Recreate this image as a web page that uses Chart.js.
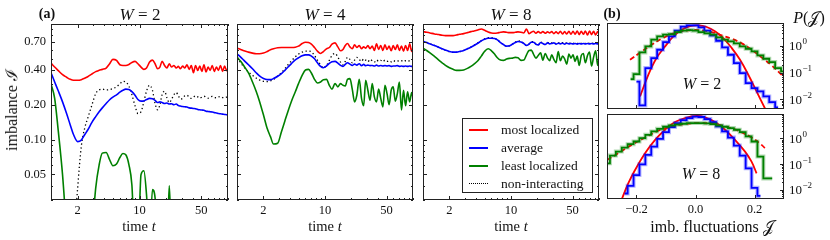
<!DOCTYPE html>
<html lang="en">
<head>
<meta charset="UTF-8">
<title>Imbalance and its fluctuations</title>
<script src="https://cdn.jsdelivr.net/npm/chart.js"></script>
<style>
  body { margin: 0; background: #fff; }
  #fig { position: relative; width: 830px; height: 240px; overflow: hidden;
         font-family: "Liberation Serif", serif; color: #111; }
  #fig canvas { position: absolute; }
  .txt { position: absolute; white-space: nowrap; transform: translate(-50%, -50%); line-height: 1; }
  .title { font-size: 17px; }
  .xlab { font-size: 16px; }
  .tlab { font-size: 14.5px; }
  .tag { font-weight: bold; font-size: 14px; }
  #legend { position: absolute; left: 462px; top: 118px; width: 131px; height: 75px;
            border: 1px solid #222; background: #fff; box-sizing: border-box; }
  #legend .row { position: absolute; left: 0; height: 16px; width: 100%; font-size: 13.5px; }
  #legend .sample { position: absolute; left: 6px; top: 7px; width: 19px; }
  #legend .name { position: absolute; left: 38px; top: 0; line-height: 16px; }
</style>
</head>
<body>
<div id="fig">
  <canvas id="w2" width="232" height="222" style="left:0;top:0"></canvas>
  <canvas id="w4" width="185" height="222" style="left:232px;top:0"></canvas>
  <canvas id="w8" width="185" height="222" style="left:418px;top:0"></canvas>
  <canvas id="h2" width="230" height="111" style="left:600px;top:0"></canvas>
  <canvas id="h8" width="230" height="114" style="left:600px;top:108px"></canvas>

  <div class="txt tag" style="left:47px;top:14px">(a)</div>
  <div class="txt title" style="left:140px;top:14px"><i>W</i> = 2</div>
  <div class="txt title" style="left:325px;top:14px"><i>W</i> = 4</div>
  <div class="txt title" style="left:511px;top:14px"><i>W</i> = 8</div>
  <div class="txt tag" style="left:612px;top:14px">(b)</div>
  <div class="txt xlab" style="left:809px;top:18px"><i>P</i>(𝒥)</div>
  <div class="txt xlab" style="left:12px;top:110px;transform:translate(-50%,-50%) rotate(-90deg)">imbalance ℐ</div>
  <div class="txt tlab" style="left:139px;top:226px">time <i>t</i></div>
  <div class="txt tlab" style="left:325px;top:226px">time <i>t</i></div>
  <div class="txt tlab" style="left:511px;top:226px">time <i>t</i></div>
  <div class="txt xlab" style="left:712px;top:227px">imb. fluctuations 𝒥</div>
  <div class="txt xlab" style="left:702px;top:84px"><i>W</i> = 2</div>
  <div class="txt xlab" style="left:701px;top:174px"><i>W</i> = 8</div>
  <div id="legend"></div>
</div>

<script>
// time grid shared by all curves of panel (a)
const times = [1, 1.1, 1.2, 1.35, 1.5, 1.65, 1.8, 2, 2.2, 2.4, 2.6, 2.9, 3.2, 3.5, 3.8, 4.2, 4.6, 5, 5.5, 6,
  6.5, 7, 7.6, 8.2, 8.9, 9.6, 10.4, 11.2, 12, 13, 14, 15, 16, 17, 18, 19.2, 20.4, 21.7, 23, 24.5,
  26, 27.5, 29, 30.7, 32.5, 34.4, 36.4, 38.5, 40.7, 43, 45.5, 48, 50.7, 53.5, 56.5, 59.6, 62.9, 66.4, 70, 74,
  78, 82.3, 86.8, 91.6, 96.6, 100];

// W = 2
const mostW2 = [0.459, 0.424, 0.397, 0.364, 0.346, 0.332, 0.326, 0.326, 0.330, 0.339, 0.350, 0.369, 0.387, 0.397, 0.405, 0.416, 0.453, 0.494, 0.484, 0.444,
  0.438, 0.438, 0.447, 0.465, 0.475, 0.453, 0.424, 0.405, 0.416, 0.468, 0.487, 0.453, 0.410, 0.424, 0.475, 0.438, 0.416, 0.453, 0.424, 0.438,
  0.416, 0.430, 0.410, 0.433, 0.416, 0.444, 0.405, 0.438, 0.379, 0.438, 0.397, 0.433, 0.389, 0.444, 0.384, 0.424, 0.397, 0.438, 0.389, 0.424,
  0.397, 0.438, 0.389, 0.433, 0.394, 0.416];
const avgW2 = [0.379, 0.315, 0.267, 0.212, 0.168, 0.134, 0.110, 0.096, 0.099, 0.110, 0.121, 0.141, 0.158, 0.174, 0.188, 0.205, 0.221, 0.233, 0.244, 0.257,
  0.267, 0.273, 0.271, 0.260, 0.242, 0.222, 0.215, 0.216, 0.222, 0.227, 0.225, 0.218, 0.209, 0.212, 0.209, 0.205, 0.207, 0.203, 0.204, 0.200,
  0.203, 0.197, 0.195, 0.193, 0.192, 0.191, 0.188, 0.187, 0.186, 0.185, 0.182, 0.181, 0.180, 0.179, 0.176, 0.175, 0.174, 0.173, 0.171, 0.170,
  0.168, 0.167, 0.166, 0.165, 0.164, 0.163];
const leastW2 = [0.303, 0.227, 0.125, 0.0497, 0.016, null, null, null, null, null, null, 0.015, 0.038, 0.0605, 0.0763, 0.0773, 0.0669, 0.0594, 0.0614, 0.070,
  0.0758, 0.0738, 0.0605, 0.0407, 0.012, 0.012, 0.0497, 0.0538, 0.0334, 0.012, 0.0369, 0.0313, 0.012, 0.012, 0.012, 0.012, 0.012, 0.040, 0.012, null,
  null, null, null, null, null, null, null, null, null, null, null, null, null, null, null, null, null, null, null, null,
  null, null, null, null, null, null];
const freeW2 = [null, null, null, null, null, null, 0.012, 0.038, 0.087, 0.125, 0.153, 0.199, 0.250, 0.269, 0.273, 0.269, 0.271, 0.276, 0.286, 0.303,
  0.319, 0.315, 0.289, 0.245, 0.196, 0.168, 0.174, 0.212, 0.262, 0.295, 0.267, 0.205, 0.181, 0.200, 0.245, 0.262, 0.230, 0.209, 0.222, 0.245,
  0.255, 0.239, 0.224, 0.227, 0.239, 0.242, 0.233, 0.227, 0.233, 0.239, 0.234, 0.228, 0.233, 0.237, 0.233, 0.228, 0.233, 0.236, 0.231, 0.230,
  0.234, 0.236, 0.231, 0.230, 0.233, 0.233];

// W = 4
const mostW4 = [0.618, 0.602, 0.586, 0.571, 0.560, 0.552, 0.552, 0.560, 0.578, 0.598, 0.610, 0.622, 0.626, 0.626, 0.626, 0.626, 0.630, 0.643, 0.678, 0.696,
  0.691, 0.669, 0.626, 0.582, 0.556, 0.578, 0.610, 0.626, 0.669, 0.687, 0.634, 0.586, 0.602, 0.651, 0.678, 0.634, 0.610, 0.660, 0.626, 0.651,
  0.610, 0.634, 0.618, 0.651, 0.610, 0.643, 0.590, 0.673, 0.602, 0.651, 0.590, 0.660, 0.602, 0.643, 0.586, 0.651, 0.602, 0.660, 0.590, 0.643,
  0.582, 0.651, 0.590, 0.673, 0.578, 0.630];
const avgW4 = [0.552, 0.517, 0.484, 0.444, 0.410, 0.379, 0.355, 0.337, 0.330, 0.330, 0.337, 0.353, 0.372, 0.397, 0.424, 0.459, 0.490, 0.510, 0.531, 0.541,
  0.541, 0.527, 0.500, 0.462, 0.430, 0.418, 0.433, 0.456, 0.471, 0.475, 0.459, 0.438, 0.430, 0.447, 0.462, 0.450, 0.438, 0.450, 0.441, 0.453,
  0.436, 0.447, 0.436, 0.441, 0.436, 0.438, 0.433, 0.441, 0.433, 0.438, 0.433, 0.436, 0.433, 0.436, 0.430, 0.433, 0.433, 0.436, 0.430, 0.433,
  0.430, 0.433, 0.430, 0.433, 0.430, 0.430];
const leastW4 = [0.517, 0.475, 0.433, 0.377, 0.315, 0.262, 0.215, 0.163, 0.125, 0.106, 0.0915, 0.093, 0.117, 0.145, 0.176, 0.219, 0.259, 0.305, 0.360, 0.400,
  0.405, 0.377, 0.332, 0.309, 0.315, 0.330, 0.332, 0.295, 0.273, 0.305, 0.286, 0.305, 0.295, 0.291, 0.332, 0.337, 0.273, 0.212, 0.242, 0.332,
  0.227, 0.196, 0.326, 0.267, 0.219, 0.305, 0.234, 0.212, 0.273, 0.227, 0.192, 0.295, 0.250, 0.200, 0.267, 0.286, 0.215, 0.250, 0.315, 0.180,
  0.267, 0.196, 0.259, 0.212, 0.255, 0.230];
const freeW4 = [0.507, 0.462, 0.424, 0.384, 0.360, 0.341, 0.328, 0.319, 0.317, 0.322, 0.332, 0.355, 0.379, 0.410, 0.444, 0.484, 0.521, 0.549, 0.571, 0.582,
  0.582, 0.575, 0.534, 0.487, 0.444, 0.418, 0.438, 0.484, 0.534, 0.556, 0.517, 0.468, 0.444, 0.475, 0.514, 0.494, 0.462, 0.487, 0.514, 0.494,
  0.475, 0.500, 0.487, 0.471, 0.494, 0.481, 0.468, 0.490, 0.475, 0.484, 0.471, 0.487, 0.475, 0.481, 0.471, 0.484, 0.475, 0.481, 0.475, 0.481,
  0.471, 0.481, 0.475, 0.481, 0.475, 0.478];

// W = 8
const mostW8 = [0.859, 0.848, 0.837, 0.820, 0.810, 0.799, 0.794, 0.794, 0.794, 0.804, 0.815, 0.826, 0.842, 0.859, 0.871, 0.888, 0.906, 0.882, 0.854, 0.837,
  0.832, 0.837, 0.848, 0.854, 0.848, 0.842, 0.842, 0.848, 0.854, 0.848, 0.837, 0.906, 0.826, 0.848, 0.865, 0.832, 0.859, 0.837, 0.859, 0.832,
  0.854, 0.837, 0.859, 0.826, 0.854, 0.826, 0.865, 0.820, 0.859, 0.820, 0.865, 0.815, 0.865, 0.815, 0.871, 0.810, 0.865, 0.815, 0.871, 0.804,
  0.871, 0.810, 0.865, 0.804, 0.859, 0.826];
const avgW8 = [0.710, 0.691, 0.673, 0.651, 0.630, 0.610, 0.594, 0.578, 0.571, 0.571, 0.578, 0.590, 0.610, 0.630, 0.651, 0.682, 0.714, 0.738, 0.753, 0.753,
  0.748, 0.729, 0.691, 0.664, 0.643, 0.647, 0.669, 0.691, 0.705, 0.700, 0.678, 0.651, 0.669, 0.696, 0.696, 0.669, 0.660, 0.691, 0.678, 0.664,
  0.687, 0.673, 0.678, 0.687, 0.669, 0.682, 0.673, 0.682, 0.669, 0.682, 0.673, 0.678, 0.673, 0.678, 0.669, 0.678, 0.673, 0.678, 0.673, 0.678,
  0.673, 0.678, 0.673, 0.678, 0.673, 0.673];
const leastW8 = [0.618, 0.590, 0.563, 0.524, 0.490, 0.462, 0.438, 0.418, 0.405, 0.397, 0.397, 0.400, 0.413, 0.430, 0.450, 0.481, 0.527, 0.578, 0.610, 0.586,
  0.549, 0.510, 0.487, 0.484, 0.497, 0.504, 0.507, 0.514, 0.510, 0.484, 0.487, 0.541, 0.590, 0.594, 0.549, 0.507, 0.534, 0.563, 0.487, 0.556,
  0.507, 0.481, 0.541, 0.494, 0.462, 0.578, 0.481, 0.527, 0.500, 0.450, 0.549, 0.507, 0.541, 0.475, 0.527, 0.438, 0.534, 0.556, 0.462, 0.534,
  0.571, 0.433, 0.517, 0.586, 0.438, 0.507];
const freeW8 = [0.712, 0.693, 0.675, 0.652, 0.630, 0.609, 0.592, 0.576, 0.568, 0.568, 0.576, 0.590, 0.611, 0.633, 0.655, 0.686, 0.718, 0.743, 0.760, 0.760,
  0.752, 0.731, 0.692, 0.663, 0.641, 0.646, 0.672, 0.697, 0.714, 0.708, 0.680, 0.654, 0.672, 0.703, 0.705, 0.672, 0.661, 0.698, 0.684, 0.668,
  0.694, 0.678, 0.686, 0.692, 0.674, 0.690, 0.680, 0.689, 0.676, 0.688, 0.679, 0.686, 0.679, 0.685, 0.678, 0.685, 0.680, 0.684, 0.679, 0.684,
  0.680, 0.684, 0.680, 0.683, 0.680, 0.682];

const seriesNames = ['most localized', 'average', 'least localized', 'non-interacting'];
const seriesColors = ['#ff0000', '#0000ff', '#008000', '#000000'];

const timeTicks = [1, 2, 3, 4, 5, 6, 7, 8, 9, 10, 20, 30, 40, 50, 60, 70, 80, 90, 100];
const timeLabelValues = [2, 10, 50];
const timeLabels = ['2', '10', '50'];
const imbTicks = [0.03, 0.04, 0.05, 0.06, 0.07, 0.08, 0.09, 0.1, 0.2, 0.3, 0.4, 0.5, 0.6, 0.7, 0.8, 0.9, 1];
const imbLabelValues = [0.05, 0.1, 0.2, 0.4, 0.7];
const imbLabels = ['0.05', '0.10', '0.20', '0.40', '0.70'];

// panel (b): histogram bin centres and normalized counts
const bins = [-0.30, -0.28, -0.26, -0.24, -0.22, -0.20, -0.18, -0.16, -0.14, -0.12, -0.10, -0.08, -0.06, -0.04, -0.02, 0.00,
  0.02, 0.04, 0.06, 0.08, 0.10, 0.12, 0.14, 0.16, 0.18, 0.20, 0.22, 0.24, 0.26, 0.28, 0.30];
const avgHistW2 = [null, null, null, null, 0, 0.047, 0.006, 0.150, 0.355, 0.729, 1.41, 2.30, 3.76, 5.31, 5.96, 5.96,
  5.01, 3.76, 2.51, 1.58, 0.891, 0.473, 0.230, 0.097, 0.041, 0.0266, 0.020, 0.013, 0.0079, 0.005, 0];
const leastHistW2 = [null, null, null, 0, 0.058, 0.089, 0.579, 0.972, 1.73, 2.30, 2.66, 2.82, 3.35, 3.76, 3.98, 3.76,
  3.35, 2.99, 2.66, 2.11, 1.73, 1.50, 1.26, 0.972, 0.794, 0.631, 0.447, 0.335, 0.251, 0.150, 0.112];
const avgHistW8 = [null, null, 0, 0.0072, 0.0144, 0.0376, 0.0985, 0.229, 0.486, 0.97, 1.77, 2.78, 3.99, 5.23, 6.27, 7.07,
  6.87, 5.73, 4.37, 2.96, 1.88, 1.09, 0.531, 0.216, 0.0687, 0.012, 0.0058, 0, null, null, null];
const leastHistW8 = [0.108, 0.216, 0.309, 0.444, 0.60, 0.763, 1.03, 1.39, 1.88, 2.39, 2.87, 3.24, 3.44, 3.76, 3.99, 3.99,
  3.99, 3.87, 3.65, 3.24, 2.87, 2.54, 2.19, 1.77, 1.20, 0.763, 0.197, 0.0278, 0.0278, 0, null];

// fitted distributions (solid: average, dashed: least localized)
const fitAvgW2J = [-0.188, -0.160, -0.132, -0.103, -0.075, -0.047, -0.019, 0.010, 0.038, 0.066, 0.094, 0.123, 0.151, 0.179, 0.207, 0.236];
const fitAvgW2P = [0.013, 0.084, 0.355, 0.97, 2.30, 4.10, 5.62, 5.96, 5.16, 3.55, 2.0, 0.84, 0.307, 0.084, 0.020, 0.0045];
const fitLeastW2J = [-0.222, -0.182, -0.149, -0.115, -0.081, -0.047, -0.013, 0.021, 0.055, 0.089, 0.123, 0.157, 0.190, 0.224, 0.258, 0.292, 0.30];
const fitLeastW2P = [0.307, 0.631, 1.12, 1.88, 2.82, 3.55, 3.98, 3.87, 3.35, 2.51, 1.88, 1.26, 0.729, 0.376, 0.188, 0.084, 0.067];
const fitAvgW8J = [-0.250, -0.228, -0.205, -0.171, -0.137, -0.103, -0.0695, -0.0356, 0.004, 0.032, 0.066, 0.100, 0.134, 0.168, 0.190, 0.207];
const fitAvgW8P = [0.0043, 0.0177, 0.059, 0.266, 0.887, 2.19, 4.37, 6.27, 7.51, 6.66, 4.37, 2.19, 0.887, 0.309, 0.125, 0.0437];
const fitLeastW8J = [-0.30, -0.262, -0.216, -0.171, -0.126, -0.081, -0.036, 0.010, 0.055, 0.100, 0.145, 0.190, 0.224, 0.241];
const fitLeastW8P = [0.146, 0.266, 0.565, 1.09, 2.0, 2.96, 3.65, 3.99, 3.76, 2.96, 2.0, 1.09, 0.565, 0.36];

const flucTicks = [-0.2, 0, 0.2];
const flucLabels = ['\u22120.2', '0.0', '0.2'];
const probTicks = [0.004, 0.005, 0.006, 0.007, 0.008, 0.009, 0.01, 0.02, 0.03, 0.04, 0.05, 0.06, 0.07, 0.08, 0.09,
  0.1, 0.2, 0.3, 0.4, 0.5, 0.6, 0.7, 0.8, 0.9, 1, 2, 3, 4, 5, 6, 7, 8, 9];
const probLabelValues = [1, 0.1, 0.01];
const probExponents = ['0', '\u22121', '\u22122'];

Chart.defaults.font.family = '"Liberation Serif", serif';
Chart.defaults.font.size = 12.5;
Chart.defaults.color = '#111';

// frame round the plot area and inward tick marks on the chosen sides
const frameTicks = {
  id: 'frameTicks',
  afterDatasetsDraw(chart, args, opts) {
    const ctx = chart.ctx, a = chart.chartArea;
    ctx.save();
    ctx.strokeStyle = '#222';
    ctx.lineWidth = 1;
    ctx.beginPath();
    (opts.x || []).forEach(side => {
      chart.scales.x.ticks.forEach(t => {
        const p = Math.round(chart.scales.x.getPixelForValue(t.value)) + 0.5;
        const len = t.major ? 4 : 2;
        const y0 = side === 'bottom' ? a.bottom : a.top;
        ctx.moveTo(p, y0);
        ctx.lineTo(p, side === 'bottom' ? y0 - len : y0 + len);
      });
    });
    (opts.y || []).forEach(side => {
      chart.scales.y.ticks.forEach(t => {
        const p = Math.round(chart.scales.y.getPixelForValue(t.value)) + 0.5;
        const len = t.major ? 4 : 2;
        const x0 = side === 'left' ? a.left : a.right;
        ctx.moveTo(x0, p);
        ctx.lineTo(side === 'left' ? x0 + len : x0 - len, p);
      });
    });
    ctx.stroke();
    ctx.strokeRect(Math.round(a.left) + 0.5, Math.round(a.top) + 0.5,
      Math.round(a.right - a.left) - 1, Math.round(a.bottom - a.top) - 1);
    ctx.restore();
  }
};

// 10^k labels on the right of the histograms
const powerLabels = {
  id: 'powerLabels',
  afterDraw(chart) {
    const ctx = chart.ctx, s = chart.scales.y;
    const x = chart.chartArea.right + 5;
    ctx.save();
    ctx.fillStyle = '#111';
    ctx.textAlign = 'left';
    ctx.textBaseline = 'middle';
    probLabelValues.forEach((v, i) => {
      const y = s.getPixelForValue(v);
      ctx.font = '13px "Liberation Serif"';
      ctx.fillText('10', x, y + 1);
      const w = ctx.measureText('10').width;
      ctx.font = '9px "Liberation Serif"';
      ctx.fillText(probExponents[i], x + w + 0.5, y - 4);
    });
    ctx.restore();
  }
};

function curve(name, vals, color, dotted) {
  return {
    label: name,
    data: times.map((t, i) => ({ x: t, y: vals[i] })),
    borderColor: color,
    borderWidth: dotted ? 1.3 : 1.6,
    borderDash: dotted ? [1.3, 2.6] : [],
    pointRadius: 0,
    cubicInterpolationMode: 'monotone',
    fill: false
  };
}

function timePanel(id, sets, showY) {
  new Chart(document.getElementById(id), {
    type: 'line',
    data: {
      datasets: sets.map((vals, i) => curve(seriesNames[i], vals, seriesColors[i], i === 3))
    },
    options: {
      responsive: false,
      animation: false,
      events: [],
      layout: { padding: { top: 24, right: 4, left: 0, bottom: 0 } },
      plugins: {
        legend: { display: false },
        tooltip: { enabled: false },
        frameTicks: { x: ['bottom', 'top'], y: ['left', 'right'] }
      },
      scales: {
        x: {
          type: 'logarithmic', min: 1, max: 100,
          afterBuildTicks: s => { s.ticks = timeTicks.map(v => ({ value: v, major: timeLabelValues.includes(v) })); },
          afterFit: s => { s.height = 22; },
          grid: { display: false, drawTicks: false },
          border: { display: false },
          ticks: {
            autoSkip: false, maxRotation: 0, minRotation: 0, padding: 3,
            callback: v => { const k = timeLabelValues.indexOf(v); return k < 0 ? '' : timeLabels[k]; }
          }
        },
        y: {
          type: 'logarithmic', min: 0.03, max: 1,
          afterBuildTicks: s => { s.ticks = imbTicks.map(v => ({ value: v, major: imbLabelValues.includes(v) })); },
          afterFit: s => { s.width = showY ? 51 : 5; },
          grid: { display: false, drawTicks: false },
          border: { display: false },
          ticks: {
            display: showY, autoSkip: false, padding: 5,
            callback: v => { const k = imbLabelValues.indexOf(v); return k < 0 ? '' : imbLabels[k]; }
          }
        }
      }
    },
    plugins: [frameTicks]
  });
}

timePanel('w2', [mostW2, avgW2, leastW2, freeW2], true);
timePanel('w4', [mostW4, avgW4, leastW4, freeW4], false);
timePanel('w8', [mostW8, avgW8, leastW8, freeW8], false);

function histPanel(id, avgHist, leastHist, fitA, fitL, yMax, padTop, xHeight, showX) {
  const pts = (xs, ys) => xs.map((x, i) => ({ x: x, y: ys[i] }));
  const step = (vals, color, width) => ({
    data: pts(bins, vals), borderColor: color, borderWidth: width,
    stepped: 'middle', pointRadius: 0, fill: false
  });
  new Chart(document.getElementById(id), {
    type: 'line',
    data: {
      datasets: [
        step(leastHist, 'rgba(0,128,0,0.3)', 4),
        step(leastHist, '#008000', 1.8),
        step(avgHist, 'rgba(0,0,255,0.3)', 4),
        step(avgHist, '#0000ff', 1.8),
        { data: pts(fitA[0], fitA[1]), borderColor: '#ff0000', borderWidth: 1.8, pointRadius: 0, tension: 0.4, fill: false },
        { data: pts(fitL[0], fitL[1]), borderColor: '#ff0000', borderWidth: 1.8, borderDash: [5, 3], pointRadius: 0, tension: 0.4, fill: false }
      ]
    },
    options: {
      responsive: false,
      animation: false,
      events: [],
      layout: { padding: { top: padTop, right: 46, left: 7, bottom: 0 } },
      plugins: {
        legend: { display: false },
        tooltip: { enabled: false },
        frameTicks: { x: ['bottom'], y: ['right'] }
      },
      scales: {
        x: {
          type: 'linear', min: -0.3, max: 0.3,
          afterBuildTicks: s => { s.ticks = flucTicks.map(v => ({ value: v, major: true })); },
          afterFit: s => { s.height = xHeight; },
          grid: { display: false, drawTicks: false },
          border: { display: false },
          ticks: {
            display: showX, autoSkip: false, maxRotation: 0, minRotation: 0, padding: 3,
            callback: v => { const k = flucTicks.indexOf(v); return k < 0 ? '' : flucLabels[k]; }
          }
        },
        y: {
          type: 'logarithmic', position: 'right', min: 0.0044, max: yMax,
          afterBuildTicks: s => {
            s.ticks = probTicks.filter(v => v >= s.min && v <= s.max)
              .map(v => ({ value: v, major: probLabelValues.includes(v) }));
          },
          afterFit: s => { s.width = 0; },
          grid: { display: false, drawTicks: false },
          border: { display: false },
          ticks: { display: false }
        }
      }
    },
    plugins: [frameTicks, powerLabels]
  });
}

histPanel('h2', avgHistW2, leastHistW2, [fitAvgW2J, fitAvgW2P], [fitLeastW2J, fitLeastW2P], 7.3, 23, 2, false);
histPanel('h8', avgHistW8, leastHistW8, [fitAvgW8J, fitAvgW8P], [fitLeastW8J, fitLeastW8P], 9.0, 6, 23, true);

// legend of panel (a), W = 8
const legendBox = document.getElementById('legend');
seriesNames.forEach((name, i) => {
  const row = document.createElement('div');
  row.className = 'row';
  row.style.top = (3.3 + 18 * i) + 'px';
  const sample = document.createElement('div');
  sample.className = 'sample';
  sample.style.borderTop = i === 3 ? '1.5px dotted #000' : '2px solid ' + seriesColors[i];
  const label = document.createElement('div');
  label.className = 'name';
  label.textContent = name;
  row.appendChild(sample);
  row.appendChild(label);
  legendBox.appendChild(row);
});
</script>
</body>
</html>
